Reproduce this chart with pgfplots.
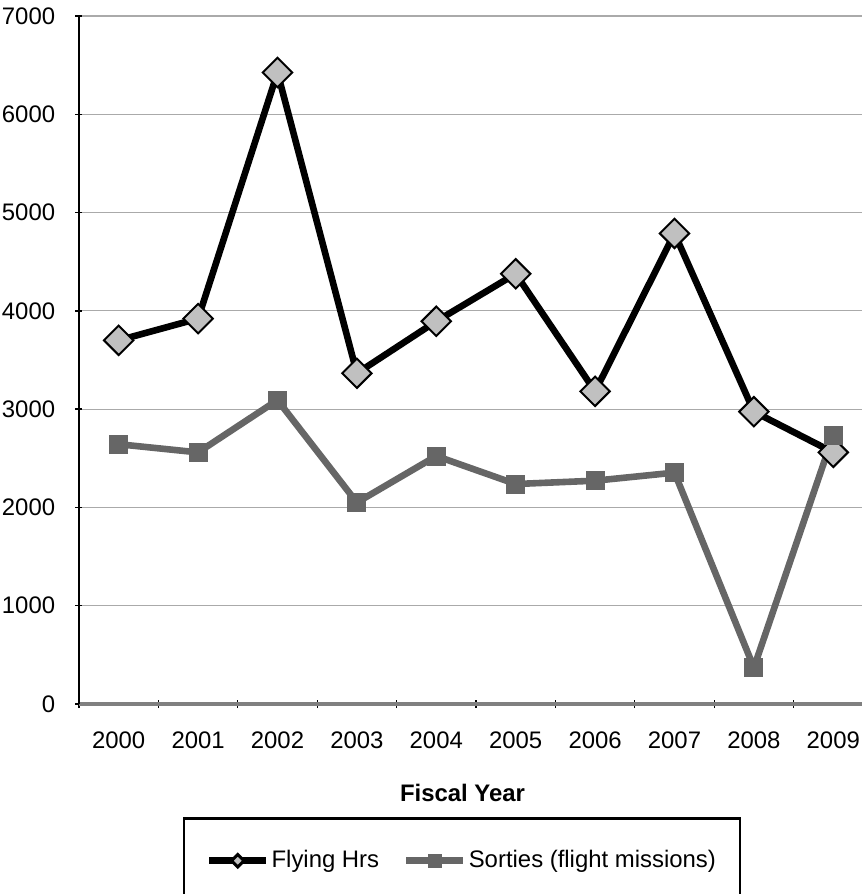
\documentclass[border=0pt]{standalone}
\usepackage{fontspec}
\setmainfont{Liberation Sans}
\usepackage{pgfplots}
\pgfplotsset{compat=1.18}
\definecolor{silv}{HTML}{C0C0C0}
\definecolor{sgray}{HTML}{666666}
\definecolor{gridc}{HTML}{AAAAAA}
\begin{document}
\fontsize{12}{14}\selectfont
\begin{tikzpicture}
\useasboundingbox (-39.5bp,-95bp) rectangle (391.5bp,352bp);
\begin{axis}[
  at={(0,0)}, anchor=south west,
  scale only axis,
  width=397bp, height=344bp,
  xmin=-0.5, xmax=9.5,
  ymin=0, ymax=7000,
  ytick={0,1000,...,7000},
  xtick={0,...,9},
  xticklabels={2000,2001,2002,2003,2004,2005,2006,2007,2008,2009},
  major x tick style={draw=none},
  minor xtick={-0.5,0.5,...,9.5},
  minor x tick style={black, line width=0.7pt},
  minor tick length=4bp,
  ytick style={black, line width=0.7pt},
  major tick length=3.5bp,
  tick align=outside,
  axis x line=bottom,
  axis y line=left,
  axis line style={-},
  y axis line style={black, line width=1.4pt},
  x axis line style={gray, line width=1.6pt},
  ymajorgrids,
  grid style={gridc, line width=0.6pt},
  /pgf/number format/assume math mode=true,
  /pgf/number format/1000 sep={},
  tick label style={font=\fontsize{12}{14}\selectfont},
  xticklabel style={yshift=-8bp},
  yticklabel style={xshift=-6bp},
  xlabel={\textbf{Fiscal Year}},
  xlabel style={font=\fontsize{12}{14}\selectfont, at={(0.483,0)}, anchor=center, yshift=-44.5bp},
  clip=false,
  legend columns=2,
  legend image code/.code={\draw[mark repeat=2, mark phase=2, #1] plot coordinates {(0bp,0bp) (14.25bp,0bp) (28.5bp,0bp)};},
  legend style={at={(0.1306,-0.1642)}, anchor=north west, draw=black, line width=1.3pt,
    inner xsep=11bp, inner ysep=15bp, font=\fontsize{12}{14}\selectfont,
    nodes={inner xsep=1bp, inner ysep=1bp},
    /tikz/every even column/.append style={column sep=11bp}},
  legend cell align=left,
]
\addplot[black, line width=3.3bp, mark=square*, mark size=5.2bp,
  mark options={fill=silv, draw=black, line width=1pt, rotate=45},
  legend image post style={mark size=2.2bp, mark options={fill=silv, draw=black, line width=1.5pt, rotate=45}}]
  coordinates {(0,3700) (1,3921) (2,6425) (3,3365) (4,3894) (5,4377) (6,3181) (7,4788) (8,2974) (9,2560)};
\addlegendentry{Flying Hrs}
\addplot[sgray, line width=3.3bp, mark=square*, mark size=4.5bp,
  mark options={fill=sgray, draw=sgray, line width=0.5pt},
  legend image post style={mark size=3.25bp}]
  coordinates {(0,2643) (1,2560) (2,3092) (3,2050) (4,2523) (5,2238) (6,2272) (7,2354) (8,370) (9,2735)};
\addlegendentry{Sorties (flight missions)}
\end{axis}
\end{tikzpicture}
\end{document}
